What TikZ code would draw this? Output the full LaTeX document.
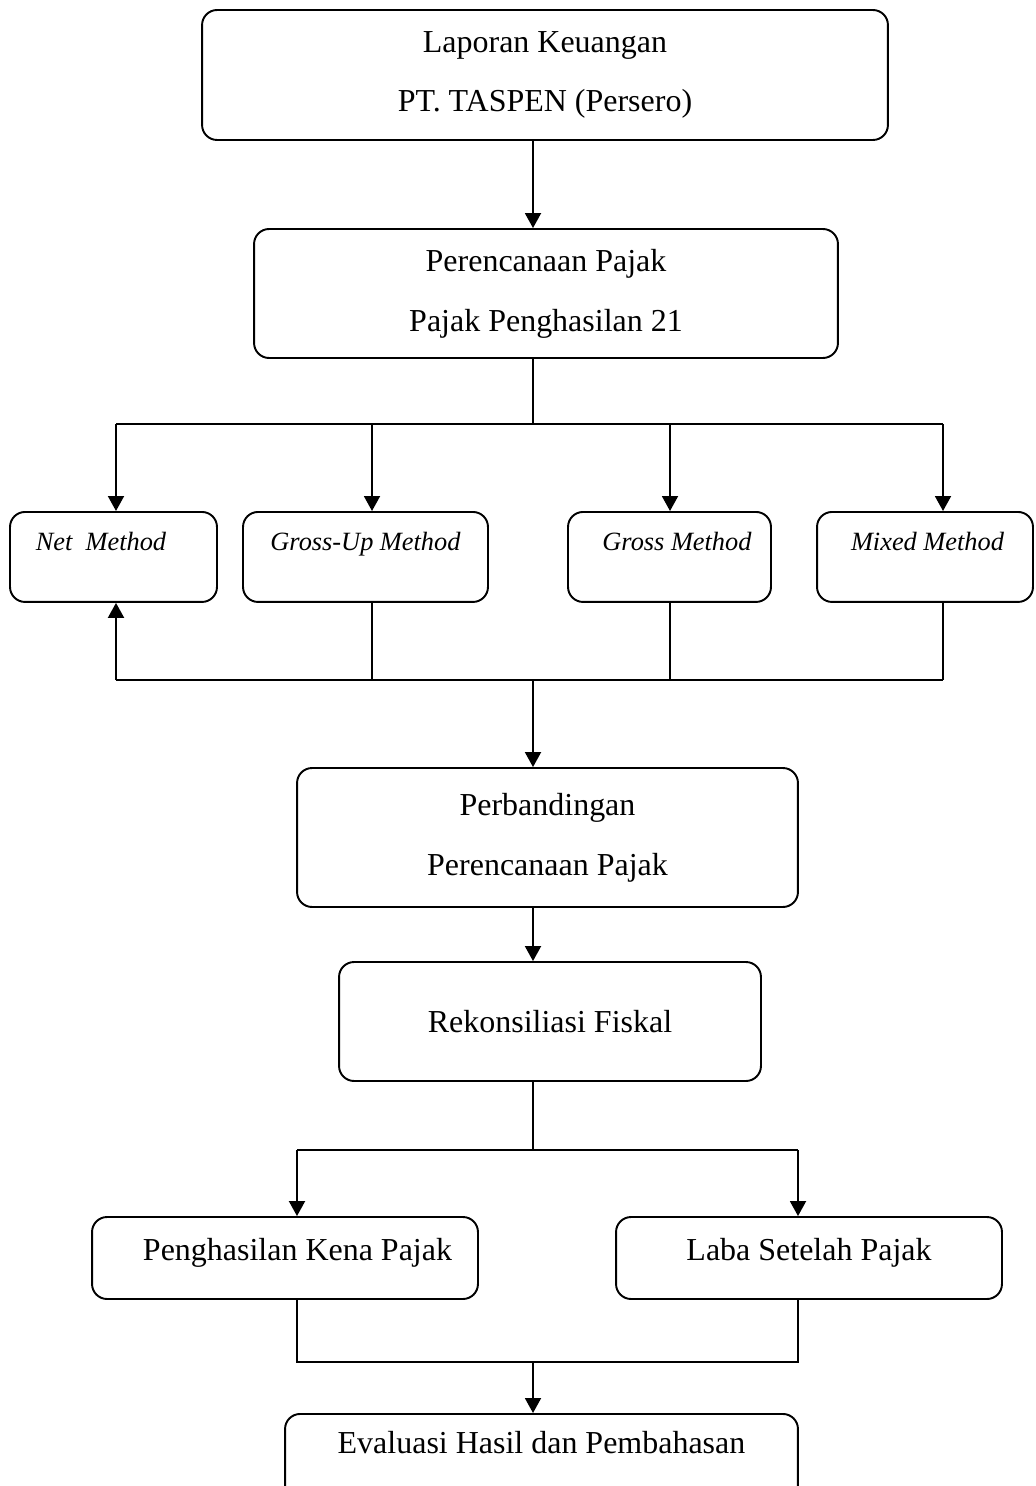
\documentclass[tikz,border=0pt]{standalone}
\usepackage{fontspec}
\setmainfont{Liberation Serif}
\usetikzlibrary{arrows.meta}

\begin{document}
\begin{tikzpicture}[x=0.02cm,y=-0.02cm,>={Triangle[length=0.3cm,width=0.32cm]},line width=1.1pt,
  box/.style={draw,rounded corners=0.3cm,inner sep=0pt,align=center,font=\fontsize{18.2}{34}\selectfont},
  meth/.style={box,anchor=north,text height=0.78cm,text depth=1.02cm,font=\fontsize{15}{18}\selectfont\itshape}]
  \useasboundingbox (0,0) rectangle (1035,1486);
  % boxes
  \node[box,minimum width=13.72cm,minimum height=2.6cm] (lap) at (545,75) {Laporan Keuangan\\PT. TASPEN (Persero)};
  \node[box,minimum width=11.68cm,minimum height=2.58cm] (plan) at (546,293.5) {Perencanaan Pajak\\Pajak Penghasilan 21};
  \node[meth,minimum width=4.14cm] (net) at (113.5,511) {\hspace*{-0.5cm}Net\ \ Method};
  \node[meth,minimum width=4.9cm] (gup) at (365.5,511) {Gross-Up Method};
  \node[meth,minimum width=4.06cm] (gross) at (669.5,511) {\hspace*{0.3cm}Gross Method};
  \node[meth,minimum width=4.32cm] (mixed) at (925,511) {\hspace*{0.1cm}Mixed Method};
  \node[box,minimum width=10.02cm,minimum height=2.78cm] (banding) at (547.5,837.5) {Perbandingan\\Perencanaan Pajak};
  \node[box,minimum width=8.44cm,minimum height=2.38cm] (rekon) at (550,1021.5) {Rekonsiliasi Fiskal};
  \node[box,minimum width=7.72cm,text height=0.86cm,text depth=0.78cm] (pkp) at (285,1258) {\hspace*{0.5cm}Penghasilan Kena Pajak};
  \node[box,minimum width=7.72cm,text height=0.86cm,text depth=0.78cm] (laba) at (809,1258) {Laba Setelah Pajak};
  \node[box,anchor=north,minimum width=10.26cm,text height=0.8cm,text depth=1.1cm] (eval) at (541.5,1413) {Evaluasi Hasil dan Pembahasan};
  % junctions
  \coordinate (split1) at (533,424);
  \coordinate (merge1) at (533,680);
  \coordinate (split2) at (533,1150);
  \coordinate (merge2) at (533,1362);
  \foreach \m/\cx in {net/116,gup/372,gross/670,mixed/943}{
    \coordinate (top-\m) at (\cx,424);
    \coordinate (bot-\m) at (\cx,680);
  }
  \coordinate (top-pkp) at (297,1150); \coordinate (top-laba) at (798,1150);
  \coordinate (bot-pkp) at (297,1362); \coordinate (bot-laba) at (798,1362);
  % connectors
  \draw[->] (lap.south -| split1) -- (plan.north -| split1);
  \draw (plan.south -| split1) -- (split1);
  \draw (top-net) -- (top-mixed);
  \foreach \m in {net,gup,gross,mixed} \draw[->] (top-\m) -- (\m.north -| top-\m);
  \foreach \m in {gup,gross,mixed} \draw (\m.south -| bot-\m) -- (bot-\m);
  \draw (bot-net) -- (bot-mixed);
  \draw[->] (bot-net) -- (net.south -| bot-net);
  \draw[->] (merge1) -- (banding.north -| merge1);
  \draw[->] (banding.south -| split1) -- (rekon.north -| split1);
  \draw (rekon.south -| split2) -- (split2);
  \draw (top-pkp) -- (top-laba);
  \draw[->] (top-pkp) -- (pkp.north -| top-pkp);
  \draw[->] (top-laba) -- (laba.north -| top-laba);
  \draw (pkp.south -| bot-pkp) -- (bot-pkp) -- (bot-laba) -- (laba.south -| bot-laba);
  \draw[->] (merge2) -- (eval.north -| merge2);
\end{tikzpicture}
\end{document}
